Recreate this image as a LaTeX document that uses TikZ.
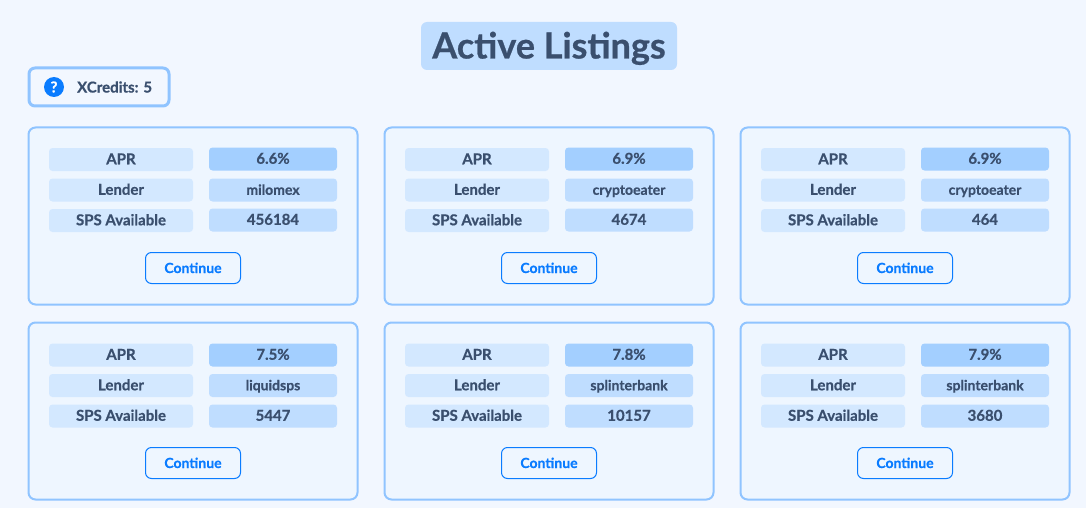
\documentclass[tikz,border=0pt]{standalone}
\usepackage{fontspec}
\setmainfont{Lato}[BoldFeatures={FakeBold=0.6}]
\usepackage{xcolor}
\definecolor{pagebg}{HTML}{F2F7FF}
\definecolor{cardbg}{HTML}{EEF6FF}
\definecolor{edgeblue}{HTML}{90C4FF}
\definecolor{labelbg}{HTML}{D3E8FF}
\definecolor{aprbg}{HTML}{A3CFFF}
\definecolor{valuebg}{HTML}{BFDDFF}
\definecolor{inkblue}{HTML}{3A4F6E}
\definecolor{btnblue}{HTML}{0A7CFF}

\begin{document}
\begin{tikzpicture}
[x=1pt,y=-1pt]
\tikzset{
	title/.style = {fill=valuebg, rounded corners=6pt, minimum width=256pt, minimum height=48pt, text=inkblue, font=\fontsize{36}{40}\selectfont\bfseries, text height=30pt, text depth=5pt, inner sep=0pt},
	credits/.style = {draw=edgeblue, line width=3pt, fill=pagebg, rounded corners=6pt, minimum width=140pt, minimum height=38pt},
	creditstext/.style = {text=inkblue, inner sep=0pt, font=\fontsize{15}{16}\selectfont\bfseries},
	helpicon/.style = {circle, fill=btnblue, text=white, inner sep=0pt, minimum size=20pt, font=\fontsize{15}{16}\selectfont\bfseries},
	card/.style = {draw=edgeblue, line width=2pt, fill=cardbg, rounded corners=7pt, minimum width=329pt, minimum height=177pt},
	cell/.style = {rounded corners=3.5pt, minimum height=23pt, inner sep=0pt, text=inkblue, text height=11.5pt, text depth=2pt, font=\fontsize{15}{16}\selectfont\bfseries},
	rowlabel/.style = {cell, fill=labelbg, minimum width=144pt},
	aprvalue/.style = {cell, fill=aprbg, minimum width=128pt},
	rowvalue/.style = {cell, fill=valuebg, minimum width=128pt},
	lendervalue/.style = {rowvalue, font=\fontsize{14}{16}\selectfont\bfseries},
	continuebtn/.style = {draw=btnblue, line width=1pt, rounded corners=6pt, minimum width=95pt, minimum height=31pt, inner sep=0pt, text=btnblue, text height=11.5pt, text depth=1.5pt, font=\fontsize{14}{16}\selectfont\bfseries}
}

\fill [pagebg] (0,0) rectangle (1086,508);
\useasboundingbox (0,0) rectangle (1086,508);

\node (title) [title] at (549,46) {Active Listings};
\node (credits) [credits] at (99,87) {};
\node (help) [helpicon] at (54,87) {?};
\node (creditsval) [creditstext, anchor=west] at (77,87) {XCredits: 5};

% top row
\node (card1) [card] at (193,216) {};
\node (apr1) [rowlabel] at (121,159.5) {APR};
\node (aprval1) [aprvalue] at (273,159) {6.6\%};
\node (lender1) [rowlabel] at (121,190) {Lender};
\node (lenderval1) [lendervalue] at (273,190) {milomex};
\node (sps1) [rowlabel] at (121,220.5) {SPS Available};
\node (spsval1) [rowvalue] at (273,220) {456184};
\node (btn1) [continuebtn] at (193,268) {Continue};

\node (card2) [card] at (549,216) {};
\node (apr2) [rowlabel] at (477,159.5) {APR};
\node (aprval2) [aprvalue] at (629,159) {6.9\%};
\node (lender2) [rowlabel] at (477,190) {Lender};
\node (lenderval2) [lendervalue] at (629,190) {cryptoeater};
\node (sps2) [rowlabel] at (477,220.5) {SPS Available};
\node (spsval2) [rowvalue] at (629,220) {4674};
\node (btn2) [continuebtn] at (549,268) {Continue};

\node (card3) [card] at (905,216) {};
\node (apr3) [rowlabel] at (833,159.5) {APR};
\node (aprval3) [aprvalue] at (985,159) {6.9\%};
\node (lender3) [rowlabel] at (833,190) {Lender};
\node (lenderval3) [lendervalue] at (985,190) {cryptoeater};
\node (sps3) [rowlabel] at (833,220.5) {SPS Available};
\node (spsval3) [rowvalue] at (985,220) {464};
\node (btn3) [continuebtn] at (905,268) {Continue};

% bottom row
\node (card4) [card] at (193,411) {};
\node (apr4) [rowlabel] at (121,355) {APR};
\node (aprval4) [aprvalue] at (273,355) {7.5\%};
\node (lender4) [rowlabel] at (121,385.5) {Lender};
\node (lenderval4) [lendervalue] at (273,385.5) {liquidsps};
\node (sps4) [rowlabel] at (121,416) {SPS Available};
\node (spsval4) [rowvalue] at (273,416) {5447};
\node (btn4) [continuebtn] at (193,463) {Continue};

\node (card5) [card] at (549,411) {};
\node (apr5) [rowlabel] at (477,355) {APR};
\node (aprval5) [aprvalue] at (629,355) {7.8\%};
\node (lender5) [rowlabel] at (477,385.5) {Lender};
\node (lenderval5) [lendervalue] at (629,385.5) {splinterbank};
\node (sps5) [rowlabel] at (477,416) {SPS Available};
\node (spsval5) [rowvalue] at (629,416) {10157};
\node (btn5) [continuebtn] at (549,463) {Continue};

\node (card6) [card] at (905,411) {};
\node (apr6) [rowlabel] at (833,355) {APR};
\node (aprval6) [aprvalue] at (985,355) {7.9\%};
\node (lender6) [rowlabel] at (833,385.5) {Lender};
\node (lenderval6) [lendervalue] at (985,385.5) {splinterbank};
\node (sps6) [rowlabel] at (833,416) {SPS Available};
\node (spsval6) [rowvalue] at (985,416) {3680};
\node (btn6) [continuebtn] at (905,463) {Continue};
\end{tikzpicture}
\end{document}
